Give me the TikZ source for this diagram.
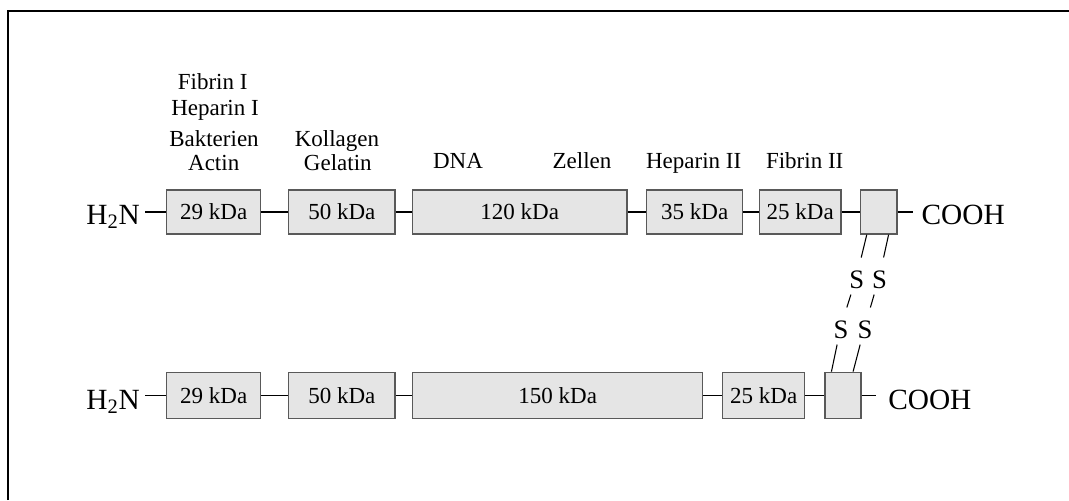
\documentclass[tikz,border=0pt]{standalone}
\usepackage{fontspec}
\setmainfont{Liberation Serif}
\usetikzlibrary{calc}
\begin{document}
\begin{tikzpicture}[x=0.75pt,y=-0.75pt,
  domain/.style 2 args={draw=black!65, fill=black!10, line width=1pt,
    minimum width=#1*0.75pt, minimum height=#2*0.75pt, inner sep=0pt,
    font=\fontsize{17.25}{20}\selectfont},
  link/.style={draw=black, line width=0.8pt},
  site/.style={font=\fontsize{17.25}{20}\selectfont, inner sep=0pt, anchor=base},
  terminus/.style={font=\fontsize{22}{24}\selectfont, inner ysep=0pt},
  sulfur/.style={font=\fontsize{20}{22}\selectfont, inner xsep=1pt, inner ysep=0pt,
    text height=22.9pt, text depth=4.5pt, anchor=base},
]
\useasboundingbox (0,0) rectangle (1069,500);

% frame
\draw[line width=1.5pt] (8,500) -- (8,11) -- (1069,11);

% upper chain domains
\node[domain={94}{44}]    (a1) at (213.7,212) {29 kDa};
\node[domain={106.3}{44}] (a2) at (341.8,212) {50 kDa};
\node[domain={214.5}{44}] (a3) at (519.7,212) {120 kDa};
\node[domain={96}{44}]    (a4) at (694.7,212) {35 kDa};
\node[domain={81.7}{44}]  (a5) at (800.2,212) {25 kDa};
\node[domain={36.3}{44}]  (a6) at (878.8,212) {};

% lower chain domains
\node[domain={94}{46}]    (b1) at (213.7,395.3) {29 kDa};
\node[domain={106.3}{46}] (b2) at (341.8,395.3) {50 kDa};
\node[domain={290}{46}]   (b3) at (557.7,395.3) {150 kDa};
\node[domain={82}{46}]    (b4) at (763.7,395.3) {25 kDa};
\node[domain={36}{46}]    (b5) at (843,395.3) {};

% termini
\node[terminus, inner xsep=3.75pt, anchor=base east] (n1) at (145,224) {H\textsubscript{2}N};
\node[terminus, inner xsep=6pt, anchor=base west]    (c1) at (913.3,224) {COOH};
\node[terminus, inner xsep=3.75pt, anchor=base east] (n2) at (145,409.3) {H\textsubscript{2}N};
\node[terminus, inner xsep=9pt, anchor=base west]    (c2) at (876,409.3) {COOH};

% linkers, upper chain
\draw[link] (a1.west) -- (a1.west -| n1.east);
\draw[link] (a1.east) -- (a2.west);
\draw[link] (a2.east) -- (a3.west);
\draw[link] (a3.east) -- (a4.west);
\draw[link] (a4.east) -- (a5.west);
\draw[link] (a5.east) -- (a6.west);
\draw[link] (a6.east) -- (a6.east -| c1.west);

% linkers, lower chain
\draw[link] (b1.west) -- (b1.west -| n2.east);
\draw[link] (b1.east) -- (b2.west);
\draw[link] (b2.east) -- (b3.west);
\draw[link] (b3.east) -- (b4.west);
\draw[link] (b4.east) -- (b5.west);
\draw[link] (b5.east) -- (b5.east -| c2.west);

% disulfide bridges
\coordinate (t1) at ($(a6.south west)!0.18!(a6.south east)$);
\coordinate (t2) at ($(a6.south west)!0.76!(a6.south east)$);
\coordinate (u1) at ($(b5.north west)!0.19!(b5.north east)$);
\coordinate (u2) at ($(b5.north west)!0.77!(b5.north east)$);
\node[sulfur] (s1) at (856.7,288.3) {S};
\node[sulfur] (s2) at (879.5,288.3) {S};
\node[sulfur] (s3) at (841,338.3) {S};
\node[sulfur] (s4) at (865,338.3) {S};
\draw[link] (t1) -- (s1) -- (s3) -- (u1);
\draw[link] (t2) -- (s2) -- (s4) -- (u2);

% binding sites
\node[site] (l1) at (212.7,89.3) {Fibrin I};
\node[site] (l2) at (215,115) {Heparin I};
\node[site] (l3) at (214,146) {Bakterien};
\node[site] (l4) at (213.7,170) {Actin};
\node[site] (l5) at (337,146) {Kollagen};
\node[site] (l6) at (337.8,170) {Gelatin};
\node[site] (l7) at (458,168.5) {DNA};
\node[site] (l8) at (582,168.5) {Zellen};
\node[site] (l9) at (693.7,168.5) {Heparin II};
\node[site] (l10) at (804.7,168.5) {Fibrin II};
\end{tikzpicture}
\end{document}
